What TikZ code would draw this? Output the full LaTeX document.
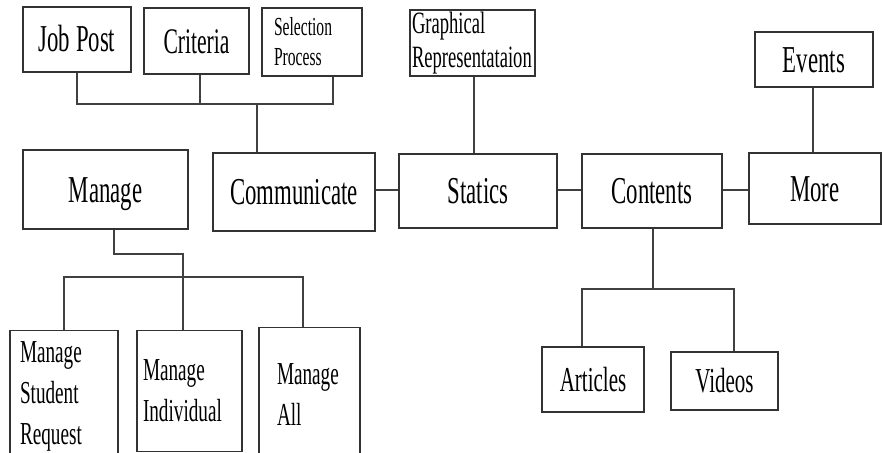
\documentclass[tikz,border=0pt]{standalone}
\usepackage{fontspec}
\setmainfont[FakeStretch=0.6]{Liberation Serif}
\begin{document}
\begin{tikzpicture}[x=1pt,y=-1pt,
  box/.style={draw=black!80, line width=1.3pt, inner sep=0pt, align=center},
  big/.style={font=\fontsize{38}{44}\selectfont, text height=25pt, text depth=0pt},
  mid/.style={font=\fontsize{35}{40}\selectfont, text height=23pt, text depth=0pt},
  multi/.style={font=\fontsize{32}{41}\selectfont, align=left},
  conn/.style={draw=black!75, line width=1.2pt}]
\clip (0,0) rectangle (882,452);
\fill[white] (0,0) rectangle (882,452);
% top row
\node[box, big, minimum width=108pt, minimum height=65pt] (jobpost) at (77,39.5) {Job Post};
\node[box, big, font=\fontsize{36}{40}\selectfont, minimum width=105pt, minimum height=66pt] (criteria) at (196.5,41) {Criteria};
\node[box, font=\fontsize{26}{30}\selectfont, align=left, inner xsep=12pt, text width=76pt, minimum height=68pt] (selection) at (312,42) {Selection\\Process};
\node[box, font=\fontsize{31}{34}\selectfont, align=left, inner xsep=2pt, text width=121pt, minimum height=66pt] (graph) at (472.5,43) {Graphical\\Representataion};
\node[box, big, minimum width=118pt, minimum height=55pt] (events) at (814,59.5) {Events};
% middle row
\node[box, big, minimum width=165pt, minimum height=79pt] (manage) at (105.5,189.5) {Manage};
\node[box, big, minimum width=162pt, minimum height=78pt] (communicate) at (294,192) {Communicate};
\node[box, big, minimum width=158pt, minimum height=74pt] (statics) at (478,191) {Statics};
\node[box, big, minimum width=140pt, minimum height=74pt] (contents) at (652,191) {Contents};
\node[box, big, minimum width=132pt, minimum height=71pt] (more) at (815,188.5) {More};
% bottom row
\node[box, multi, inner xsep=10pt, inner ysep=2pt, text width=88pt, minimum height=131pt, anchor=north] (msr) at (64,330) {Manage\\Student\\Request};
\node[box, multi, inner xsep=6pt, inner ysep=2pt, text width=93pt, minimum height=121pt, anchor=north] (mind) at (189.5,330) {Manage\\Individual};
\node[box, multi, inner xsep=18pt, inner ysep=2pt, text width=65pt, minimum height=133pt, anchor=north] (mall) at (309.5,327) {Manage\\All};
\node[box, mid, minimum width=102pt, minimum height=65pt] (articles) at (593,379.5) {Articles};
\node[box, mid, minimum width=107pt, minimum height=58pt] (videos) at (724.5,381) {Videos};
% connectors: top bus
\coordinate (tbL) at (77,104);
\coordinate (tbC) at (200,104);
\coordinate (tbM) at (257,104);
\coordinate (tbR) at (333,104);
\draw[conn] (jobpost.south) -- (tbL) -- (tbR) -- (tbR |- selection.south);
\draw[conn] (tbC |- criteria.south) -- (tbC);
\draw[conn] (tbM) -- (tbM |- communicate.north);
% manage bus
\coordinate (m1) at (114,254);
\coordinate (m2) at (183,254);
\coordinate (mb) at (183,277);
\coordinate (bL) at (64,277);
\coordinate (bR) at (303,277);
\draw[conn] (m1 |- manage.south) -- (m1) -- (m2) -- (mb);
\draw[conn] (msr.north) -- (bL) -- (bR) -- (bR |- mall.north);
\draw[conn] (mb) -- (mb |- mind.north);
% horizontal chain
\coordinate (hy) at (0,190);
\draw[conn] (communicate.east |- hy) -- (statics.west |- hy);
\draw[conn] (statics.east |- hy) -- (contents.west |- hy);
\draw[conn] (contents.east |- hy) -- (more.west |- hy);
% verticals from upper boxes
\coordinate (gx) at (474,0);
\draw[conn] (gx |- graph.south) -- (gx |- statics.north);
\coordinate (ex) at (813,0);
\draw[conn] (ex |- events.south) -- (ex |- more.north);
% contents bus
\coordinate (cb) at (653,289);
\coordinate (cL) at (582,289);
\coordinate (cR) at (734,289);
\draw[conn] (cb |- contents.south) -- (cb);
\draw[conn] (cL |- articles.north) -- (cL) -- (cR) -- (cR |- videos.north);
\end{tikzpicture}
\end{document}
